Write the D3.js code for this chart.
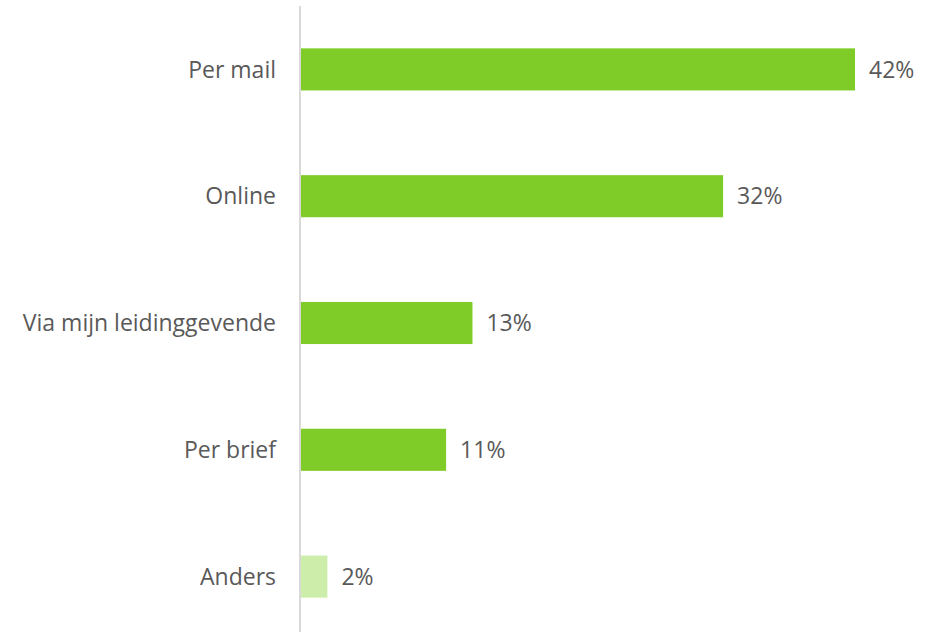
<!DOCTYPE html>
<meta charset="utf-8">
<style>
body { margin: 0; background: #fff; }
text { font-family: "Open Sans", "Noto Sans", sans-serif; fill: #595959; }
</style>
<body>
<script src="https://d3js.org/d3.v7.min.js"></script>
<script>

// data
var categories = ["Per mail", "Online", "Via mijn leidinggevende", "Per brief", "Anders"];
var values = [42, 32, 13, 11, 2];
var colors = ["#7fcc29", "#7fcc29", "#7fcc29", "#7fcc29", "#cdeeaa"];

var width = 932, height = 632;

var svg = d3.select("body").append("svg")
    .attr("width", width)
    .attr("height", height);

// scales
var x = d3.scaleLinear()
    .domain([0, 42])
    .range([301, 855]);

var y = d3.scaleBand()
    .domain(categories)
    .range([6, 640])
    .paddingInner(0.668)
    .paddingOuter(0.334);

// bars
svg.selectAll(".bar")
    .data(categories)
    .enter().append("rect")
    .attr("class", "bar")
    .attr("x", x(0))
    .attr("y", function(d) { return y(d); })
    .attr("width", function(d, i) { return x(values[i]) - x(0); })
    .attr("height", y.bandwidth())
    .attr("fill", function(d, i) { return colors[i]; });

// value labels
svg.selectAll(".val")
    .data(categories)
    .enter().append("text")
    .attr("class", "val")
    .attr("x", function(d, i) { return x(values[i]) + 14; })
    .attr("y", function(d) { return y(d) + y.bandwidth() / 2; })
    .attr("dy", "0.36em")
    .style("font-size", "23px")
    .text(function(d, i) { return values[i] + "%"; });

// category axis
var yAxis = svg.append("g")
    .attr("transform", "translate(300,0)")
    .call(d3.axisLeft(y).tickSize(0).tickPadding(24));

yAxis.attr("font-family", null);

yAxis.select(".domain")
    .attr("d", "M0,6V632")
    .attr("stroke", "#d9d9d9")
    .attr("stroke-width", 2);

yAxis.selectAll("text")
    .style("font-size", "23px")
    .attr("dy", "0.36em")
    .attr("fill", "#595959");

</script>
</body>
